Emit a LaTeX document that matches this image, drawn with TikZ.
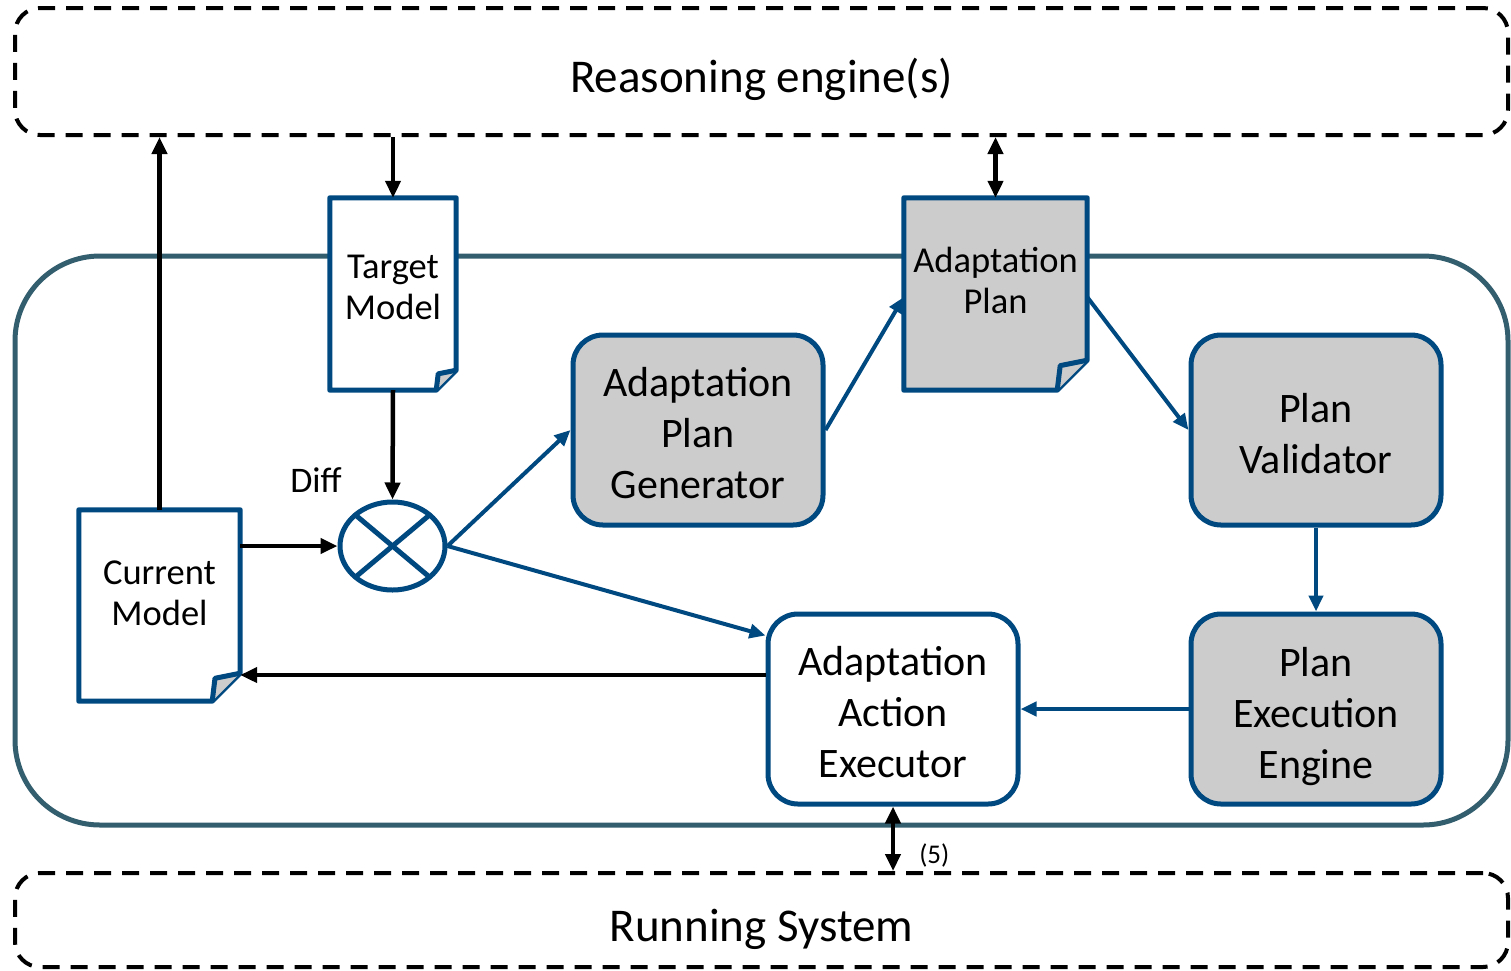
\documentclass[tikz,border=0pt]{standalone}
\usepackage{fontspec}
\setmainfont{Carlito}
\usetikzlibrary{arrows.meta,shapes.geometric}
\definecolor{boxblue}{RGB}{0,73,128}
\definecolor{frameteal}{RGB}{50,94,110}
\definecolor{boxgray}{RGB}{204,204,204}
\pgfdeclarelayer{back}
\pgfdeclarelayer{mid}
\pgfsetlayers{back,mid,main}
% #1 text, #2 extra space on top, #3 extra space at bottom
\newcommand{\tb}[3]{\begin{tabular}{@{}c@{}}\rule{0pt}{\dimexpr\ht\strutbox+#2\relax}#1\\[#3]\end{tabular}}
% #1 node, #2 fill, #3 fold size
\newcommand{\docoutline}[3]{%
  \draw[docline, fill=#2] (#1.north west) -- (#1.north east) -- ([yshift=#3]#1.south east) -- ([xshift=-#3]#1.south east) -- (#1.south west) -- cycle;
  \draw[docline, fill=boxgray] ([yshift=#3]#1.south east) -- ([xshift=-0.9*#3,yshift=0.82*#3]#1.south east) -- ([xshift=-#3]#1.south east);
}
\begin{document}
\begin{tikzpicture}[x=1pt,y=-1pt,
  dashbox/.style={draw=black, line width=4pt, dash pattern=on 17pt off 11pt, rounded corners=25pt, inner sep=0pt},
  docnode/.style={draw=none, inner sep=0pt, align=center, font=\fontsize{36.5}{41}\selectfont},
  docline/.style={draw=boxblue, line width=5pt, line join=round},
  proc/.style={draw=boxblue, line width=5pt, rounded corners=30pt, minimum width=250pt, minimum height=190pt, inner sep=0pt, align=center, font=\fontsize{42}{51}\selectfont},
  blk/.style={draw=black, line width=4.5pt, -{Triangle[length=17pt,width=15pt]}},
  blkboth/.style={draw=black, line width=4.5pt, {Triangle[length=17pt,width=15pt]}-{Triangle[length=17pt,width=15pt]}},
  bl/.style={draw=boxblue, line width=4pt, -{Triangle[length=16pt,width=14pt]}}
]
\useasboundingbox (0,0) rectangle (1511,970);

% outer dashed boxes
\node[dashbox, minimum width=1493pt, minimum height=127pt, font=\fontsize{47}{56}\selectfont] (re) at (761.5,71.5) {\tb{Reasoning engine(s)}{20pt}{0pt}};
\node[dashbox, minimum width=1493pt, minimum height=94pt, font=\fontsize{47}{56}\selectfont] (rs) at (761.5,920) {\tb{Running System}{20pt}{0pt}};

% big frame
\begin{pgfonlayer}{back}
  \draw[frameteal, line width=5pt, rounded corners=85pt] (15,256) rectangle (1508,825);
\end{pgfonlayer}

% documents
\node[docnode, minimum width=126pt, minimum height=192pt] (tm) at (393,294) {\tb{Target\\Model}{0pt}{6pt}};
\node[docnode, minimum width=183pt, minimum height=192pt] (ap) at (995.5,294) {\tb{Adaptation\\Plan}{0pt}{18pt}};
\node[docnode, minimum width=161pt, minimum height=191pt] (cm) at (159.5,605.5) {\tb{Current\\Model}{0pt}{17pt}};
\begin{pgfonlayer}{mid}
  \docoutline{tm}{white}{20pt}
  \docoutline{ap}{boxgray}{30pt}
  \docoutline{cm}{white}{28pt}
\end{pgfonlayer}

% diff operator
\node[ellipse, draw=boxblue, line width=5pt, fill=white, minimum width=105pt, minimum height=88pt, inner sep=0pt,
  path picture={\draw[boxblue, line width=5pt] (path picture bounding box.north west) -- (path picture bounding box.south east)
  (path picture bounding box.north east) -- (path picture bounding box.south west);}] (diff) at (392.5,546) {};
\node[font=\fontsize{36}{43}\selectfont] (difflbl) at (316,480) {Diff};

% process boxes
\node[proc, fill=boxgray] (gen) at (698,430) {\tb{Adaptation\\Plan\\Generator}{15pt}{0pt}};
\node[proc, fill=boxgray] (val) at (1316,430) {\tb{Plan\\Validator}{16pt}{0pt}};
\node[proc, fill=boxgray] (exe) at (1316,709) {\tb{Plan\\Execution\\Engine}{16pt}{0pt}};
\node[proc, fill=white] (act) at (893,709) {\tb{Adaptation\\Action\\Executor}{15pt}{0pt}};

% connectors
\draw[blk] (cm.north) -- (cm.north |- re.south);
\draw[blk] (re.south -| tm.north) -- (tm.north);
\draw[blk] (tm.south) -- (diff.north);
\draw[blk] (cm.east |- diff) -- (diff.west);
\draw[bl] (diff.east) -- (gen.west);
\draw[bl] (diff.east) -- ([yshift=-24pt]act.north west);
\draw[bl] (gen.east) -- ([yshift=-3pt]ap.west);
\draw[bl] ([yshift=-3pt]ap.east) -- (val.west);
\draw[bl] (val.south) -- (exe.north);
\draw[bl] (exe.west) -- (act.east);
\draw[blk] ([yshift=34pt]act.west) -- ([yshift=34pt]act.west -| cm.east);
\draw[blkboth] (ap.north |- re.south) -- (ap.north);
\draw[blkboth] (act.south) -- (act.south |- rs.north)
  node[pos=0.76, right=24pt, inner sep=0pt, font=\fontsize{27}{32}\selectfont] (l5) {(5)};
\end{tikzpicture}
\end{document}
